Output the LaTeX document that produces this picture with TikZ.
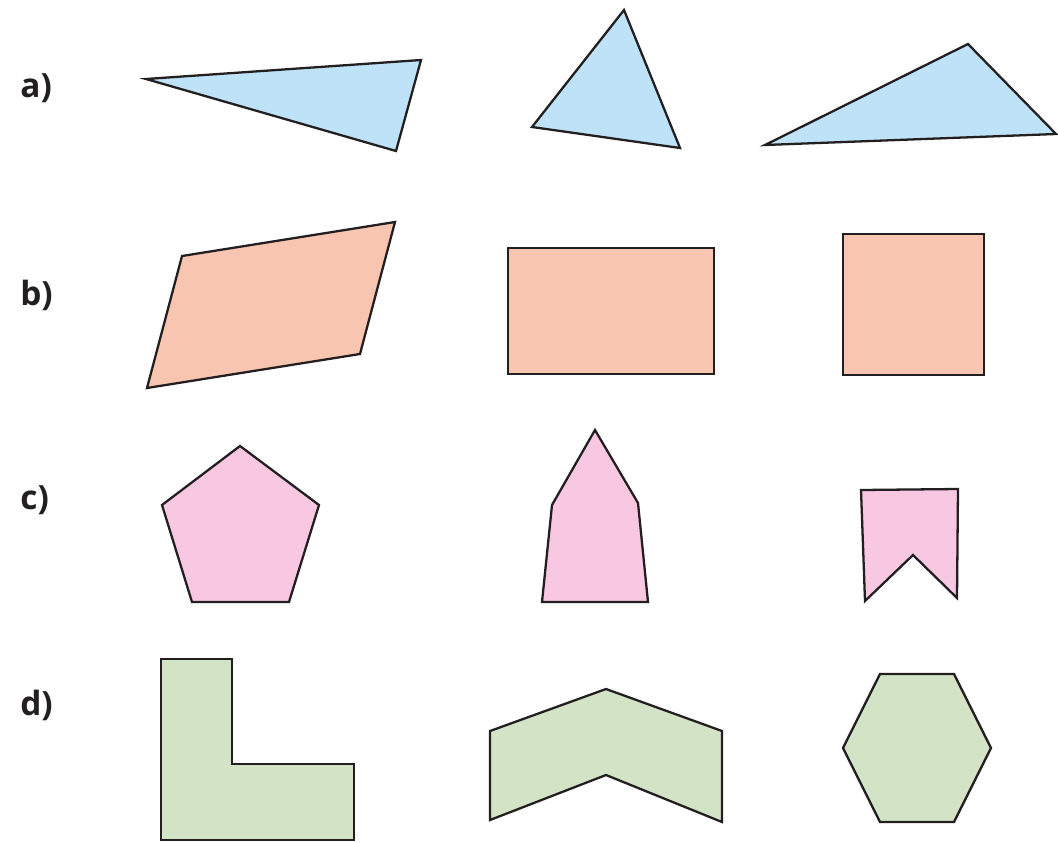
\documentclass[tikz,border=0pt]{standalone}
\usepackage{fontspec}
\setsansfont{Open Sans}
\usepackage{tikz}

\definecolor{triblue}{HTML}{BEE3F8}
\definecolor{quadorange}{HTML}{F8C5B1}
\definecolor{pentpink}{HTML}{F8C7E2}
\definecolor{hexgreen}{HTML}{D3E4C6}
\definecolor{edge}{HTML}{231F20}

\begin{document}
\begin{tikzpicture}[
  x=0.02cm, y=-0.02cm,
  shp/.style={draw=edge, line width=1.3pt, line join=miter},
  lbl/.style={font=\sffamily\bfseries\fontsize{19}{22}\selectfont, text=edge, anchor=west, inner sep=0pt},
]
\useasboundingbox (0,0) rectangle (1058,842);

% row labels
\node[lbl] (la) at (20,88) {a)};
\node[lbl] (lb) at (20,295) {b)};
\node[lbl] (lc) at (20,500) {c)};
\node[lbl] (ld) at (20,705) {d)};

% a) triangles
\filldraw[shp, fill=triblue] (146,79) -- (421,60) -- (396,151) -- cycle;
\filldraw[shp, fill=triblue] (624,10) -- (680,148) -- (532,127) -- cycle;
\filldraw[shp, fill=triblue] (765,145) -- (968,44) -- (1056,134) -- cycle;

% b) quadrilaterals
\filldraw[shp, fill=quadorange] (182,256) -- (395,222) -- (360,354) -- (147,388) -- cycle;
\filldraw[shp, fill=quadorange] (508,248) rectangle (714,374);
\filldraw[shp, fill=quadorange] (843,234) rectangle (984,375);

% c) pentagons
\filldraw[shp, fill=pentpink] (240,446) -- (319,505) -- (289,602) -- (192,602) -- (162,505) -- cycle;
\filldraw[shp, fill=pentpink] (595,430) -- (638,503) -- (648,602) -- (542,602) -- (552,505) -- cycle;
\filldraw[shp, fill=pentpink] (861,490) -- (958,489) -- (957,598) -- (913,555) -- (865,601) -- cycle;

% d) hexagons
\filldraw[shp, fill=hexgreen] (161,659) -- (232,659) -- (232,764) -- (354,764) -- (354,840) -- (161,840) -- cycle;
\filldraw[shp, fill=hexgreen] (490,731) -- (606,689) -- (722,731) -- (722,822) -- (606,775) -- (490,820) -- cycle;
\filldraw[shp, fill=hexgreen] (880,674) -- (954,674) -- (991,748) -- (954,822) -- (880,822) -- (843,748) -- cycle;
\end{tikzpicture}
\end{document}
